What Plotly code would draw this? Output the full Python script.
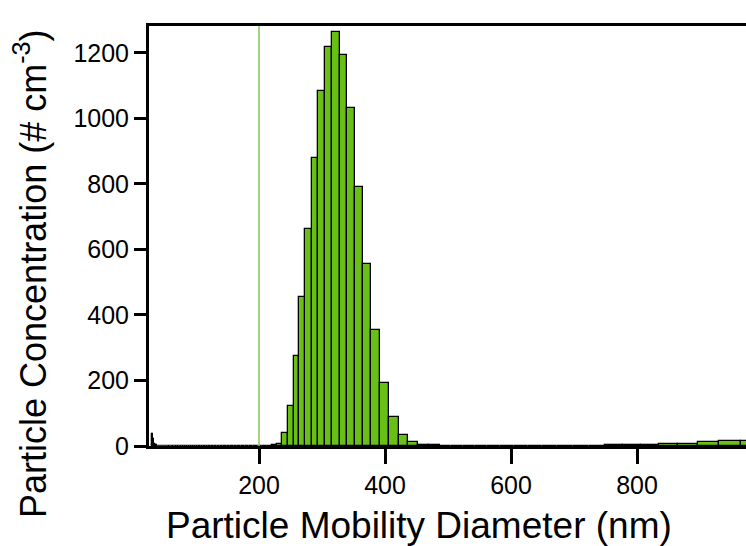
import plotly.graph_objects as go

# Particle mobility diameter bin midpoints (nm), 64 channels per decade
diameters = [
    30.0, 31.1, 32.2, 33.4, 34.6, 35.9, 37.2, 38.5, 40.0, 41.4,
    42.9, 44.5, 46.1, 47.8, 49.6, 51.4, 53.3, 55.2, 57.3, 59.4,
    61.5, 63.8, 66.1, 68.5, 71.0, 73.7, 76.4, 79.1, 82.0, 85.1,
    88.2, 91.4, 94.7, 98.2, 101.8, 105.5, 109.4, 113.4, 117.6, 121.9,
    126.3, 131.0, 135.8, 140.7, 145.9, 151.2, 156.8, 162.5, 168.5, 174.7,
    181.1, 187.7, 194.6, 201.7, 209.1, 216.7, 224.7, 232.9, 241.4, 250.3,
    259.5, 269.0, 278.8, 289.0, 299.6, 310.6, 322.0, 333.8, 346.0, 358.7,
    371.8, 385.4, 399.5, 414.2, 429.4, 445.1, 461.4, 478.3, 495.8, 514.0,
    532.8, 552.3, 572.5, 593.5, 615.3, 637.8, 661.2, 685.4, 710.5, 736.5,
    763.5, 791.5, 820.5, 850.5, 881.7, 914.0, 947.5, 982.2,
]

# Particle concentration (# cm^-3) per bin
concentrations = [
    2, 36, 22, 12, 6, 3, 2, 1.5, 1, 1,
    1, 1, 1, 1, 1, 1, 1, 1, 1, 1,
    1, 1, 1, 1, 1, 1, 1, 1, 1, 1,
    1, 1, 1, 1, 1, 1, 1, 1, 1, 1,
    1, 1, 1, 1, 1, 1, 1, 1, 1, 1,
    1, 1, 1, 1, 1, 1, 2, 5, 40, 123,
    274, 454, 661, 880, 1083, 1218, 1265, 1192, 1032, 792,
    555, 353, 193, 90, 34, 12, 4, 2, 1, 1,
    1, 1, 1, 1, 1, 1, 1, 1, 1, 1,
    2, 2.5, 3.5, 5, 7, 12, 14, 15,
]

x_tick_values = [200, 400, 600, 800]
y_tick_values = [0, 200, 400, 600, 800, 1000, 1200]
marker_diameter = 200

assert len(diameters) == len(concentrations)

ratio = 10 ** (1 / 64)
bin_widths = [d * (ratio ** 0.5 - ratio ** -0.5) for d in diameters]

FONT = "Liberation Sans, Arial, sans-serif"

fig = go.Figure()
fig.add_trace(go.Bar(
    x=diameters,
    y=concentrations,
    width=bin_widths,
    marker=dict(color="#68C016", line=dict(color="black", width=1.3)),
    showlegend=False,
))

fig.add_shape(
    type="line", xref="x", yref="y domain",
    x0=marker_diameter, x1=marker_diameter, y0=0, y1=1,
    line=dict(color="#8DCB5C", width=1.6),
)

fig.update_layout(
    width=746, height=546,
    margin=dict(l=149, r=0, t=26, b=100),
    plot_bgcolor="white", paper_bgcolor="white",
    font=dict(family=FONT, color="black", size=25),
    bargap=0,
)

fig.update_xaxes(
    range=[25.4, 973],
    tickmode="array", tickvals=x_tick_values,
    ticks="outside", ticklen=15, tickwidth=3, tickcolor="black",
    showline=True, linewidth=3, linecolor="black", mirror=True,
    showgrid=False, zeroline=False,
    tickfont=dict(size=25, family=FONT, color="black"),
)
fig.update_yaxes(
    range=[0, 1282],
    tickmode="array", tickvals=y_tick_values,
    ticks="outside", ticklen=12, tickwidth=3, tickcolor="black",
    showline=True, linewidth=3, linecolor="black", mirror=False,
    showgrid=False, zeroline=False,
    tickfont=dict(size=25, family=FONT, color="black"),
)

fig.add_annotation(
    text="Particle Mobility Diameter (nm)",
    xref="paper", yref="paper", x=0.453, y=-0.19,
    xanchor="center", yanchor="middle", showarrow=False,
    font=dict(size=37, family=FONT, color="black"),
)
fig.add_annotation(
    text="Particle Concentration (# cm<sup>-3</sup>)",
    xref="paper", yref="paper", x=-0.199, y=0.41,
    xanchor="center", yanchor="middle", showarrow=False, textangle=-90,
    font=dict(size=36, family=FONT, color="black"),
)

fig.write_html("out.html")
